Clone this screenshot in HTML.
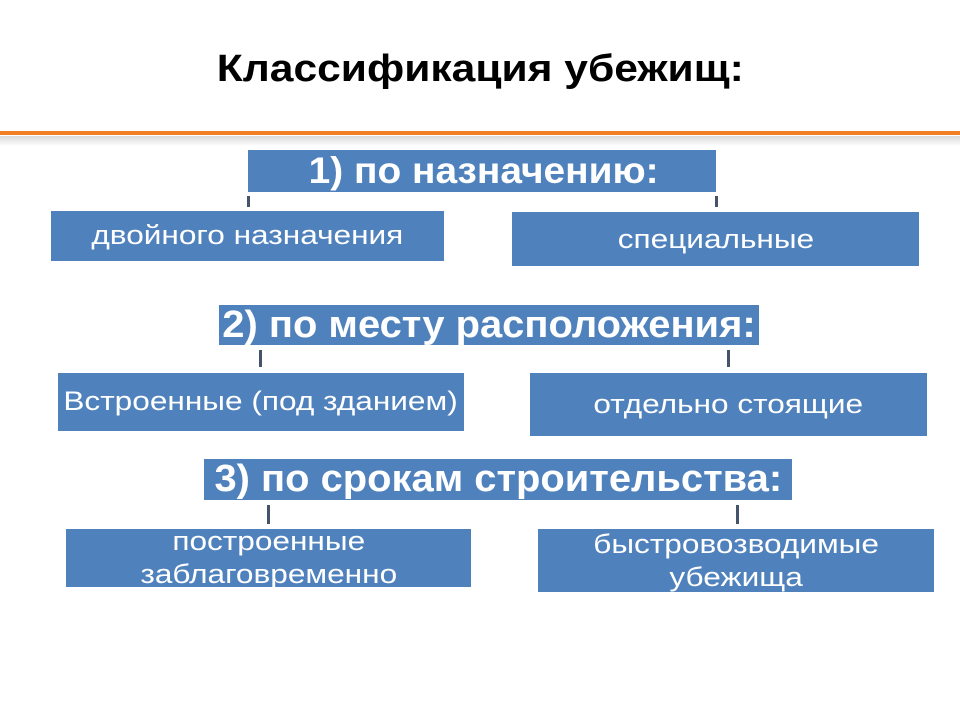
<!DOCTYPE html>
<html><head><meta charset="utf-8"><style>
body{margin:0;width:960px;height:720px;background:#fff;position:relative;overflow:hidden;font-family:"Liberation Sans",Arial,sans-serif}
.a{position:absolute}
.b{position:absolute;background:#4F81BD;color:#fff;display:flex;align-items:center;justify-content:center;text-align:center;white-space:nowrap}
.b span,.a span{display:inline-block}
.h{font-weight:bold;font-size:37px}
.h span{transform:scaleX(1.05)}
.s{font-size:27px}
.s span{transform:scaleX(1.17)}
.c{position:absolute;width:3px;background:#44546A}
</style></head><body>
<div class="a" style="left:0;width:960px;top:48px;text-align:center;font-size:38px;font-weight:bold;color:#000"><span style="transform:scaleX(1.12)">Классификация убежищ:</span></div>
<div class="a" style="left:0;width:960px;top:136px;height:10px;background:linear-gradient(#d8d8d8,#fff)"></div>
<div class="a" style="left:0;width:960px;top:131px;height:4px;background:#F07F26"></div>

<div class="b h" style="left:248px;top:150px;width:468px;height:42px;justify-content:flex-end"><span style="margin-right:66px">1) по назначению:</span></div>
<div class="c" style="left:247px;top:196px;height:11px"></div>
<div class="c" style="left:715px;top:196px;height:11px"></div>
<div class="b s" style="left:51px;top:211px;width:393px;height:50px;align-items:flex-start;padding-top:9px;box-sizing:border-box"><span>двойного назначения</span></div>
<div class="b s" style="left:512px;top:212px;width:407px;height:54px"><span>специальные</span></div>

<div class="b h" style="left:219px;top:305px;width:540px;height:40px;font-size:38px"><span>2) по месту расположения:</span></div>
<div class="c" style="left:259px;top:350px;height:17px"></div>
<div class="c" style="left:727px;top:350px;height:17px"></div>
<div class="b s" style="left:58px;top:373px;width:406px;height:58px;align-items:flex-start;padding-top:13px;box-sizing:border-box"><span>Встроенные (под зданием)</span></div>
<div class="b s" style="left:530px;top:373px;width:397px;height:63px"><span>отдельно стоящие</span></div>

<div class="b h" style="left:204px;top:459px;width:588px;height:41px;font-size:38px"><span>3) по срокам строительства:</span></div>
<div class="c" style="left:267px;top:505px;height:19px"></div>
<div class="c" style="left:736px;top:505px;height:19px"></div>
<div class="b s" style="left:66px;top:529px;width:405px;height:58px;line-height:33px;align-items:flex-start;padding-top:0;box-sizing:border-box;overflow:visible"><span style="margin-top:-4px">построенные<br>заблаговременно</span></div>
<div class="b s" style="left:538px;top:529px;width:396px;height:63px;line-height:33px"><span>быстровозводимые<br>убежища</span></div>
</body></html>
